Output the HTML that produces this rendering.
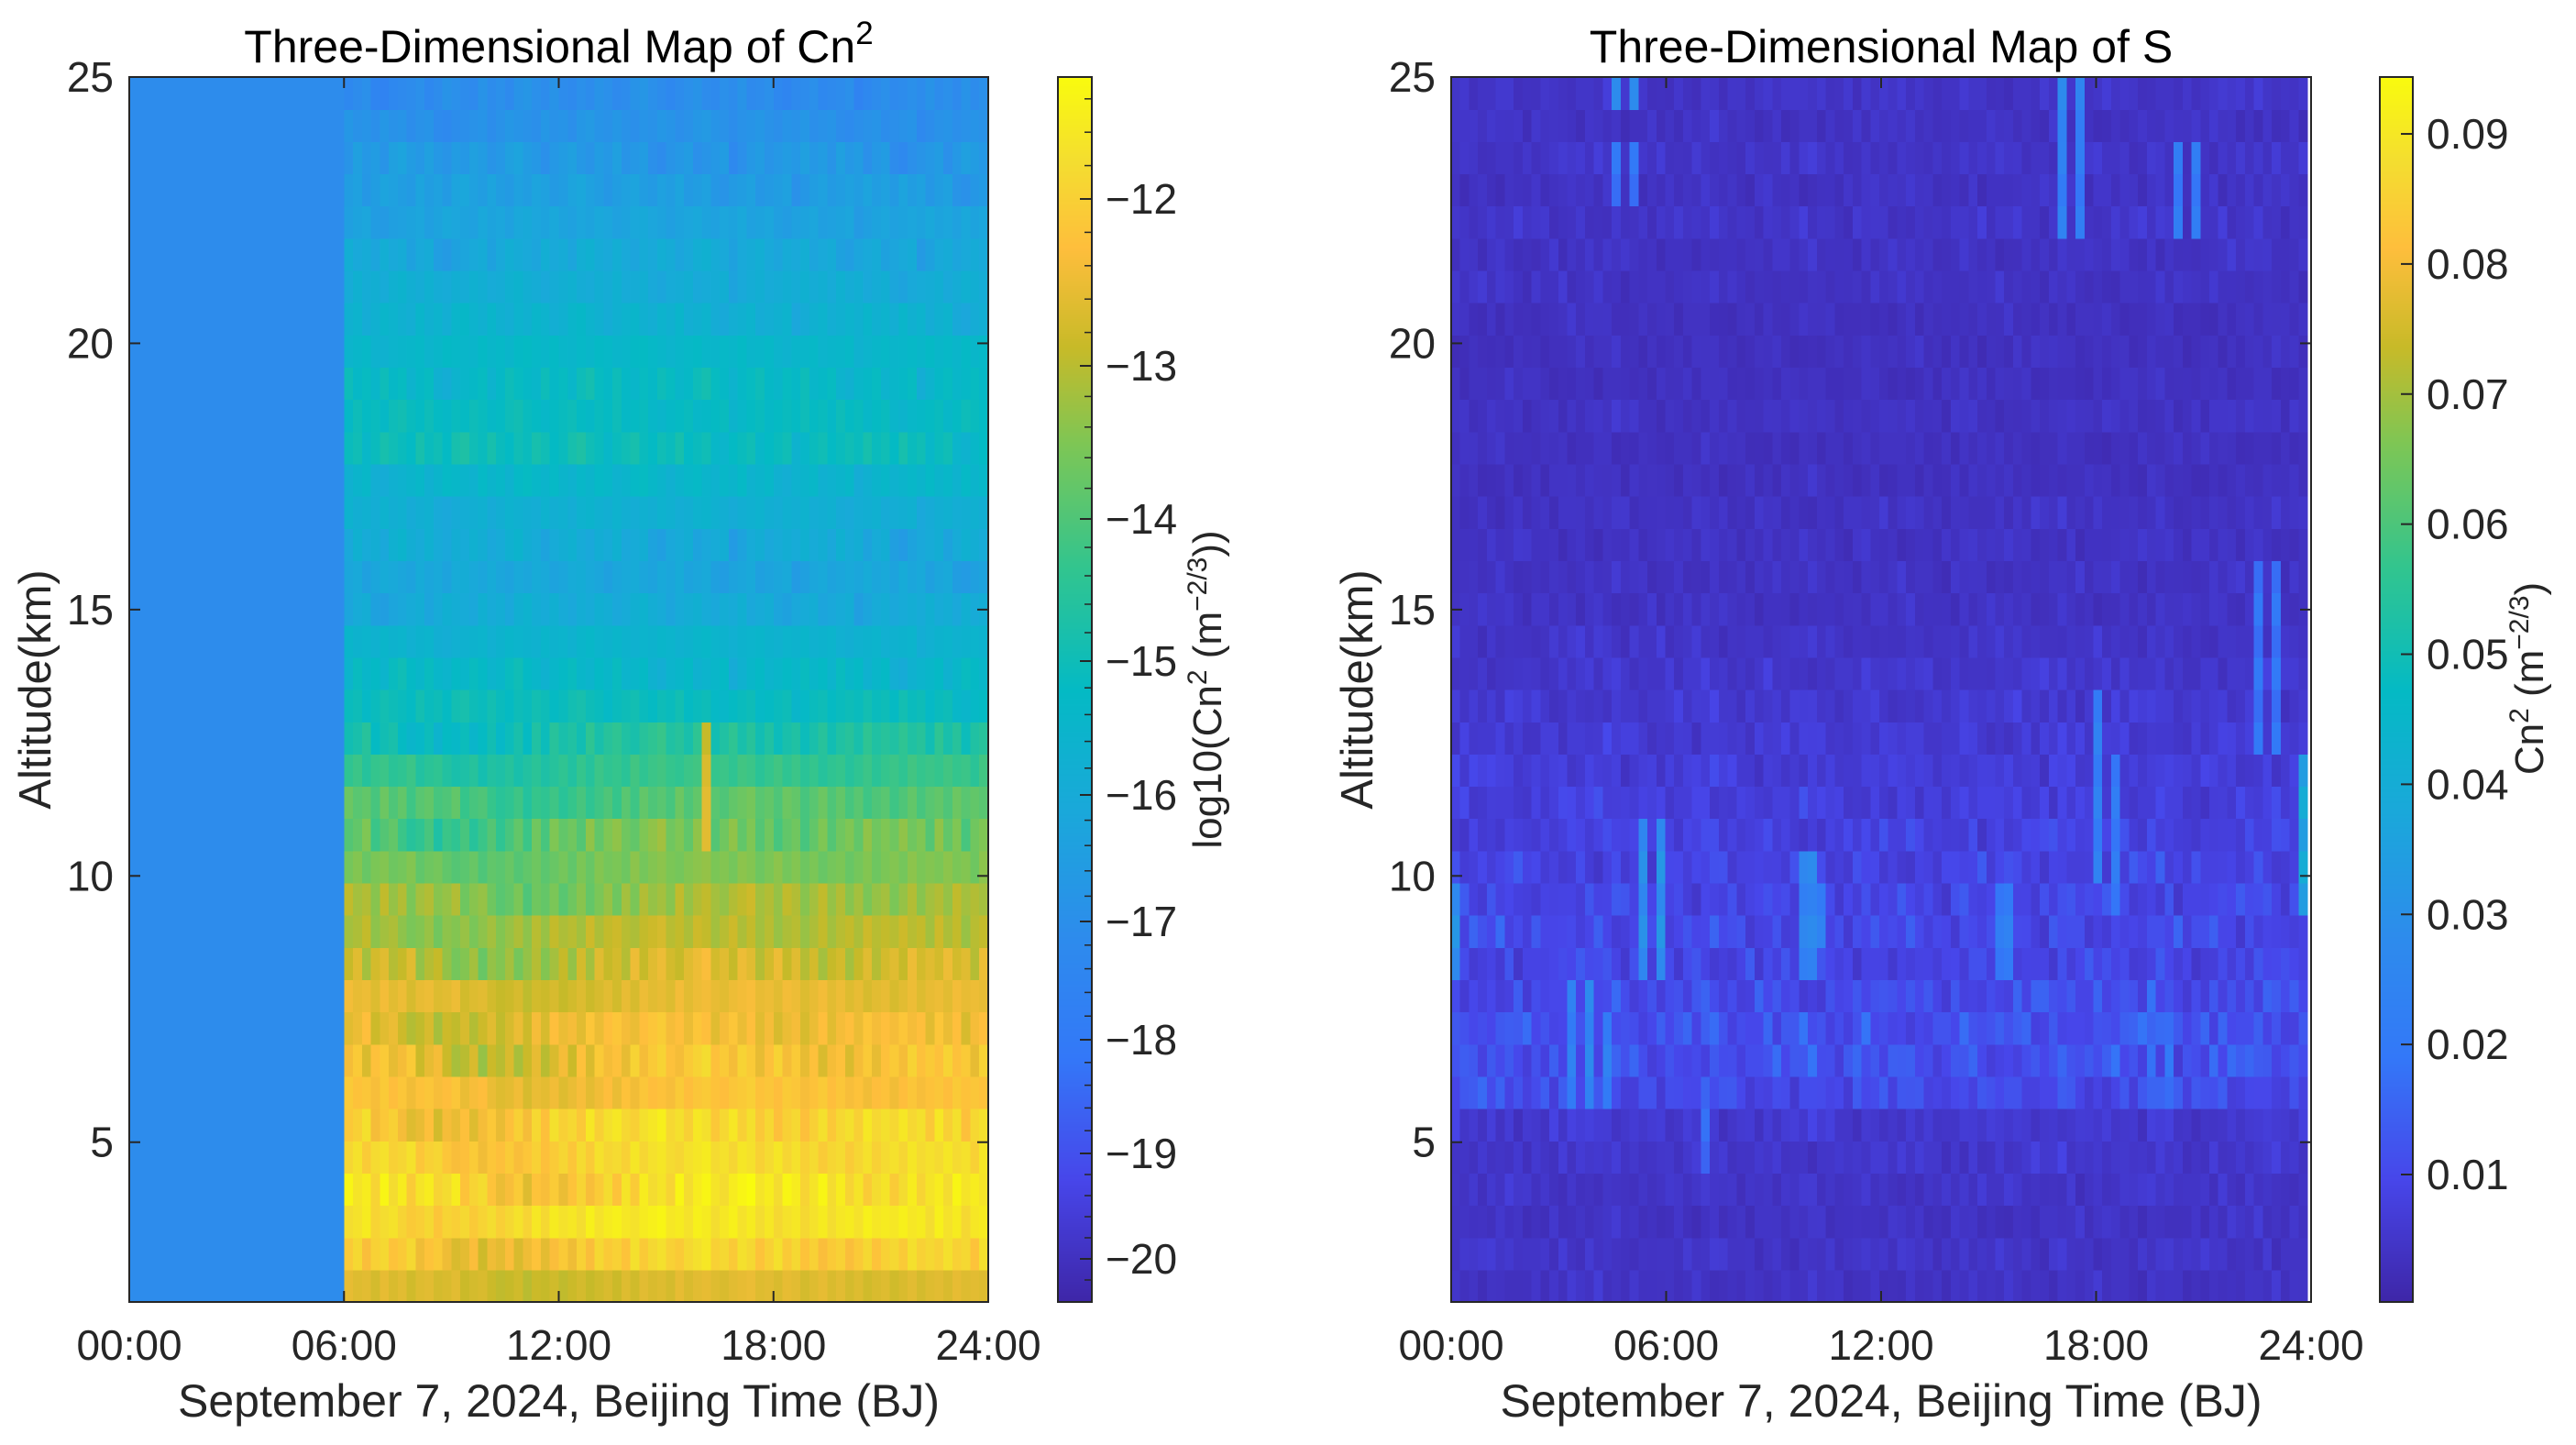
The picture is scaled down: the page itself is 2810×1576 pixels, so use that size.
<!DOCTYPE html>
<html><head><meta charset="utf-8"><title>Three-Dimensional Maps</title>
<style>
html,body{margin:0;padding:0;background:#fff;}
svg{display:block;font-family:"Liberation Sans",Arial,sans-serif;}
</style></head>
<body>
<svg id="fig" width="2810" height="1576" viewBox="0 0 2810 1576" xmlns="http://www.w3.org/2000/svg">
<rect width="2810" height="1576" fill="#fff"/>
<g id="left"></g>
<g id="right"></g>
</svg>
<script>
// ---------- data ----------
const nCols = 96;
const nRows = 38;
const altMin = 2, altMax = 25;
const xTickLabels = ["00:00","06:00","12:00","18:00","24:00"];
const yTickValues = [5,10,15,20,25];

// left chart: log10(Cn2)
const nightValue = -17.1;
const cn2Profile = [-12.7,-12.1,-11.7,-11.8,-11.9,-12.0,-12.3,-12.4,-12.5,-12.6,
 -12.9,-13.1,-13.3,-13.6,-13.8,-14.0,-14.4,-14.8,-15.1,-15.4,
 -15.6,-16.0,-16.2,-16.0,-15.8,-15.5,-15.1,-15.2,-15.3,-15.4,
 -15.7,-15.9,-16.1,-16.3,-16.5,-16.7,-16.9,-17.1];
const cn2RowJit = [0.5,1.2,0.8,1.4,0.9,1.3,0.7,1.5,1.1,0.6,1.4,0.9,1.2,0.7,1.5,1.0,0.8,1.3,0.9,1.4,
 0.7,1.2,1.0,1.5,0.8,1.1,1.3,0.9,1.4,0.7,1.2,1.0,1.3,0.8,1.1,1.4,0.9,1.2];
const cn2ColOffLow = [0.3,0.1,0.2,-0.1,0.3,0,0.2,-0.2,0.1,0.2,-0.1,0,
 0.2,-0.3,-0.1,0,-0.3,-0.5,-0.4,-0.2,-0.6,-0.3,-0.4,-0.2,
 -0.5,-0.3,-0.1,-0.4,-0.2,0,-0.3,0.1,-0.2,0.2,0,0.1,
 -0.1,0.3,0,0.2,0.3,0.1,0,0.2,0.3,0.4,0.1,0.2,
 0,0.3,0.2,-0.1,0.1,0.3,0,0.2,-0.1,0.1,-0.2,0,
 0.1,-0.2,0,0.2,-0.1,0.1,0.2,0,0.3,0.1,0.2,0.1];
const cn2ColOffHigh = [0.2,0,0.1,-0.1,0.2,0,0.1,-0.2,0,0.1,-0.3,-0.4,
 -0.2,-0.1,0,0.1,-0.2,0,0.2,0.1,0,-0.1,0.2,0,
 0.1,-0.1,0.2,0.3,0.1,0,0.2,0,-0.1,0.1,0,0.2,
 0.1,-0.1,0,0.2,0.3,0.1,0,-0.2,0,0.1,0.2,0,
 -0.1,0.1,0,0.2,-0.1,0,0.1,-0.2,-0.3,-0.1,0,0.1,
 -0.2,-0.1,0,0.1,-0.4,-0.2,0,0.1,-0.1,0,0.1,0];
const cn2SpikeCol = [64,64,64,64];
const cn2SpikeRow = [14,15,16,17];
const cn2SpikeVal = [-12.6,-12.6,-12.7,-12.9];
const cn2TickVals = [-12,-13,-14,-15,-16,-17,-18,-19,-20];
const cn2TickLabels = ["−12","−13","−14","−15","−16","−17","−18","−19","−20"];

// right chart: S
const sProfile = [0.0035,0.004,0.0035,0.004,0.0045,0.005,0.009,0.010,0.010,0.009,
 0.008,0.0085,0.008,0.0075,0.007,0.0065,0.006,0.0055,0.005,0.0045,
 0.004,0.0035,0.0035,0.0035,0.0035,0.003,0.003,0.0035,0.003,0.003,
 0.003,0.0035,0.0035,0.004,0.0035,0.004,0.0035,0.004];
const sRowJit = [1.0,0.8,1.2,0.9,1.1,1.3,0.8,1.2,1.0,1.3,0.9,1.1,0.8,1.2,1.0,0.9,1.3,0.8,1.1,1.0,
 1.2,0.9,1.1,0.8,1.2,1.0,0.9,1.3,1.0,0.8,1.1,1.2,0.9,1.0,1.3,0.8,1.1,1.2];
const sColMul = [1.4,1.2,1.0,0.8,1.1,0.9,1.2,0.8,1.0,1.1,0.9,1.3,
 1.2,1.5,1.4,1.3,1.5,1.2,1.1,0.9,1.3,1.2,1.0,1.4,
 1.0,0.9,1.2,1.3,1.1,1.0,0.8,0.9,1.0,1.3,0.9,1.1,
 1.0,1.2,1.1,1.4,1.5,1.3,1.2,1.1,0.9,0.8,1.0,1.1,
 0.9,0.8,1.0,1.2,0.9,1.1,1.0,0.9,1.2,1.1,1.3,1.2,
 1.1,1.3,1.4,1.2,1.0,0.9,1.1,0.9,1.2,1.0,1.1,1.3,
 1.4,1.2,1.1,1.0,0.9,0.8,1.3,1.4,1.2,1.0,0.9,0.8,
 0.8,0.9,1.1,1.0,1.2,1.1,1.3,1.2,1.4,1.1,1.2,1.3];
const hotCol   = [18,20,18,20,68,70,68,70,81,83,90,92,95,39,40,41,21,23,13,15,17,61,62,72,74,78,80,0,28,45];
const hotRowLo = [37,37,34,34,36,36,33,33,33,33,17,17,12,10,10,11,10,10, 6, 6, 6,10,10,13,12, 6, 6,10, 4,6];
const hotRowHi = [37,37,35,35,37,37,35,35,35,35,22,22,16,13,13,12,14,14, 9, 9, 8,12,12,18,16, 9, 8,12, 6,7];
const hotVal   = [0.028,0.028,0.02,0.02,0.028,0.025,0.024,0.022,0.022,0.022,0.02,0.02,0.04,0.026,0.028,0.024,0.03,0.032,0.024,0.028,0.024,0.022,0.024,0.024,0.022,0.018,0.02,0.032,0.018,0.016];
const sTickVals = [0.01,0.02,0.03,0.04,0.05,0.06,0.07,0.08,0.09];
const sTickLabels = ["0.01","0.02","0.03","0.04","0.05","0.06","0.07","0.08","0.09"];

// ---------- helpers ----------
const NS = "http://www.w3.org/2000/svg";
function mk(parent, tag, attrs){ const e=document.createElementNS(NS,tag); for(const k in attrs) e.setAttribute(k,attrs[k]); parent.appendChild(e); return e; }
const parula = [[0,62,38,168],[0.10,71,70,234],[0.20,51,120,248],[0.30,45,140,236],[0.40,26,168,218],[0.50,4,186,196],[0.60,50,197,142],[0.70,125,198,85],[0.78,200,186,40],[0.86,254,190,60],[0.93,244,221,48],[1,249,251,14]];
function cmap(t){ t=Math.max(0,Math.min(1,t)); for(let i=1;i<parula.length;i++){ if(t<=parula[i][0]){ const a=parula[i-1],b=parula[i],f=(t-a[0])/(b[0]-a[0]); return "rgb("+[1,2,3].map(j=>Math.round(a[j]+(b[j]-a[j])*f)).join(",")+")"; } } return "rgb(249,251,14)"; }

const axTop=84, axBot=1420;
function yScale(km){ return axBot-(km-altMin)/(altMax-altMin)*(axBot-axTop); }

const cn2TickPix=[217,399,566,721,867,1005,1134,1258,1373];
function cn2ToPix(v){
  if(v>=-12) return 217-(v+12)*182;
  if(v<=-20) return 1373+(-20-v)*115;
  const i=Math.floor(-12-v); const f=(-12-v)-i; return cn2TickPix[i]+(cn2TickPix[i+1]-cn2TickPix[i])*f;
}
function cn2Color(v){ return cmap((axBot-cn2ToPix(v))/(axBot-axTop)); }
function sToPix(v){ return 1281-(v-0.01)*14187; }
function sColor(v){ return cmap((axBot-sToPix(v))/(axBot-axTop)); }

function drawAxes(g, x0, x1, dataX1, title, titleSup, valueFn){
  const cw=(dataX1-x0)/nCols;
  const cells=mk(g,"g",{"shape-rendering":"crispEdges"});
  
  
  for(let c=0;c<nCols;c++){
    for(let r=0;r<nRows;r++){
      const km0=altMin+r*(altMax-altMin)/nRows, km1=altMin+(r+1)*(altMax-altMin)/nRows;
      const y0=yScale(km1), y1=yScale(km0);
      const rc=mk(cells,"rect",{x:(x0+c*cw).toFixed(2),y:y0.toFixed(2),width:(cw+0.6).toFixed(2),height:(y1-y0+0.6).toFixed(2),fill:valueFn(c,r)});
      
      
    }
  }
  const box=mk(g,"rect",{x:x0,y:axTop,width:x1-x0,height:axBot-axTop,fill:"none",stroke:"#262626","stroke-width":2});
  
  
  yTickValues.forEach(v=>{
    const y=yScale(v);
    mk(g,"line",{x1:x0,x2:x0+12,y1:y,y2:y,stroke:"#262626","stroke-width":2});
    mk(g,"line",{x1:x1,x2:x1-12,y1:y,y2:y,stroke:"#262626","stroke-width":2});
    const t=mk(g,"text",{x:x0-17,y:y+16,"text-anchor":"end","font-size":46,fill:"#262626"}); t.textContent=v;
    
    
  });
  xTickLabels.forEach((lab,i)=>{
    const x=x0+i*(x1-x0)/4;
    mk(g,"line",{x1:x,x2:x,y1:axBot,y2:axBot-12,stroke:"#262626","stroke-width":2});
    mk(g,"line",{x1:x,x2:x,y1:axTop,y2:axTop+12,stroke:"#262626","stroke-width":2});
    const t=mk(g,"text",{x:x,y:1483,"text-anchor":"middle","font-size":46,fill:"#262626"}); t.textContent=lab;
    
    
  });
  const cx=(x0+x1)/2;
  const xl=mk(g,"text",{x:cx,y:1545,"text-anchor":"middle","font-size":50,fill:"#262626"}); xl.textContent="September 7, 2024, Beijing Time (BJ)";
  
  
  const yl=mk(g,"text",{x:0,y:0,"text-anchor":"middle","font-size":49,fill:"#262626",transform:`translate(${x0-86},${(axTop+axBot)/2}) rotate(-90)`}); yl.textContent="Altitude(km)";
  
  
  const tt=mk(g,"text",{x:cx,y:68,"text-anchor":"middle","font-size":50,fill:"#000"});
  
  
  tt.appendChild(document.createTextNode(title));
  if(titleSup){ const s=mk(tt,"tspan",{dy:-20,"font-size":35}); s.textContent=titleSup; }
}

function drawColorbar(g, bx0, bx1, tickVals, tickLabels, toPix, labelX, labelY, labelParts, minorFn){
  const grad=mk(g,"g",{"shape-rendering":"crispEdges"});
  
  
  for(let y=axTop;y<axBot;y+=2){
    mk(grad,"rect",{x:bx0,y:y,width:bx1-bx0,height:2.5,fill:cmap((axBot-y-1)/(axBot-axTop))});
  }
  mk(g,"rect",{x:bx0,y:axTop,width:bx1-bx0,height:axBot-axTop,fill:"none",stroke:"#262626","stroke-width":2});
  if(minorFn) minorFn(g);
  tickVals.forEach((v,i)=>{
    const y=toPix(v);
    mk(g,"line",{x1:bx1,x2:bx1-13,y1:y,y2:y,stroke:"#262626","stroke-width":2});
    const t=mk(g,"text",{x:bx1+15,y:y+16,"font-size":46,fill:"#262626"}); t.textContent=tickLabels[i];
    
    
  });
  const cl=mk(g,"text",{x:0,y:0,"text-anchor":"middle","font-size":44,fill:"#262626",transform:`translate(${labelX},${labelY}) rotate(-90)`});
  
  
  labelParts.forEach(p=>{ const s=mk(cl,"tspan",p.sup?{dy:p.dy,"font-size":30}:{dy:p.dy||0}); s.textContent=p.t; });
}

// ---------- left chart ----------
const gL=document.getElementById("left");
drawAxes(gL,141,1078,1078,"Three-Dimensional Map of Cn","2",(c,r)=>{
  if(c<24) return cn2Color(nightValue);
  for(let k=0;k<cn2SpikeCol.length;k++) if(cn2SpikeCol[k]===c&&cn2SpikeRow[k]===r) return cn2Color(cn2SpikeVal[k]);
  const off = r<18 ? cn2ColOffLow[(c-24+(r%3)*5)%72] : cn2ColOffHigh[(c-24+(r%4)*7)%72];
  return cn2Color(cn2Profile[r]+off*cn2RowJit[r]);
});
drawColorbar(gL,1154,1191,cn2TickVals,cn2TickLabels,cn2ToPix,1332,752,
 [{t:"log10(Cn"},{t:"2",sup:1,dy:-16},{t:" (m",dy:16},{t:"−2/3",sup:1,dy:-16},{t:"))",dy:16}],
 g=>{ for(let v=-11.4;v>=-20.4;v-=0.2){ const y=cn2ToPix(v); if(y>axTop+2&&y<axBot-2) mk(g,"line",{x1:1191,x2:1183,y1:y,y2:y,stroke:"#262626","stroke-width":1.5}); } });

// ---------- right chart ----------
const gR=document.getElementById("right");
drawAxes(gR,1583,2521,2517,"Three-Dimensional Map of S","",(c,r)=>{
  for(let k=0;k<hotCol.length;k++) if(hotCol[k]===c&&r>=hotRowLo[k]&&r<=hotRowHi[k]) return sColor(hotVal[k]*(0.85+0.15*(r%2)));
  return sColor(sProfile[r]*sColMul[(c+(r%5)*11)%96]*sRowJit[(r+c)%38]);
});
drawColorbar(gR,2596,2632,sTickVals,sTickLabels,sToPix,2774,740,
 [{t:"Cn"},{t:"2",sup:1,dy:-16},{t:" (m",dy:16},{t:"−2/3",sup:1,dy:-16},{t:")",dy:16}],null);
</script>
</body></html>
